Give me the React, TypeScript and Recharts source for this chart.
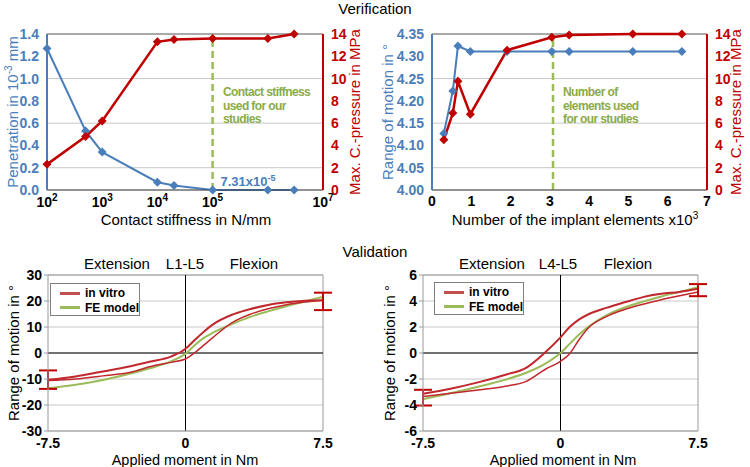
import React from 'react';
import {
  LineChart,
  ComposedChart,
  Line,
  Scatter,
  ErrorBar,
  XAxis,
  YAxis,
  CartesianGrid,
  ReferenceLine,
} from 'recharts';

const BLUE = '#4a7ebb';
const RED = '#c00000';
const VITRO = '#c0282d';
const GREEN = '#9bbb59';
const NOTE = '#8aab4a';
const GRID = '#c8c8c8';
const FONT = '"Liberation Sans", Arial, sans-serif';

// verification: contact stiffness
const stiffness = [100, 500, 1000, 10000, 20000, 100000, 1000000, 3000000];
const penetration = [1.27, 0.53, 0.34, 0.07, 0.04, 0.0000731, 0, 0];
const stiffPressure = [2.3, 4.8, 6.2, 13.3, 13.5, 13.6, 13.6, 14.0];
const stiffTicks = [100, 1e3, 1e4, 1e5, 1e6, 1e7];
const penTicks = [0, 0.2, 0.4, 0.6, 0.8, 1.0, 1.2, 1.4];
const pressureTicks = [0, 2, 4, 6, 8, 10, 12, 14];

// verification: mesh size
const elements = [0.3, 0.53, 0.66, 0.975, 1.91, 3.05, 3.49, 5.11, 6.36];
const romMesh = [4.127, 4.222, 4.323, 4.311, 4.311, 4.311, 4.311, 4.311, 4.311];
const meshPressure = [4.5, 6.9, 9.75, 6.8, 12.55, 13.7, 13.9, 14.0, 14.0];
const elemTicks = [0, 1, 2, 3, 4, 5, 6, 7];
const romTicks = [4.0, 4.05, 4.1, 4.15, 4.2, 4.25, 4.3, 4.35];

// validation
const momentX = [-7.5, -6, -4.5, -3, -1.9, -0.8, 0, 0.5, 1, 1.5, 2.5, 3.5, 4.5, 5.5, 6.5, 7.5];
const momentTicks = [-7.5, 0, 7.5];

const l15VitroUp = [-10.3, -9.0, -7.1, -5.1, -3.3, -1.4, 1.6, 5.0, 8.2, 11.0, 14.6, 16.8, 18.5, 19.5, 20.1, 20.3];
const l15VitroDown = [-10.6, -10.0, -8.8, -7.4, -5.2, -3.6, -2.3, 0.1, 3.0, 6.0, 11.5, 14.8, 17.0, 18.6, 19.6, 20.3];
const l15Fe = [-13.6, -12.2, -10.4, -7.9, -5.8, -3.2, -0.3, 3.0, 5.8, 7.8, 11.0, 13.8, 16.0, 18.0, 19.8, 21.6];
const l15Ticks = [-30, -20, -10, 0, 10, 20, 30];
const l15Err = [
  { x: -7.5, lo: -13.8, hi: -6.7 },
  { x: 7.5, lo: 16.5, hi: 23.2 },
];

const l45VitroUp = [-3.14, -2.75, -2.26, -1.67, -1.16, 0.1, 1.2, 2.0, 2.57, 2.96, 3.47, 3.9, 4.3, 4.55, 4.7, 4.94];
const l45VitroDown = [-3.34, -3.1, -2.85, -2.55, -2.2, -1.23, -0.64, -0.05, 1.0, 1.9, 2.8, 3.35, 3.75, 4.1, 4.4, 4.7];
const l45Fe = [-3.55, -3.1, -2.6, -2.05, -1.54, -0.8, 0, 0.7, 1.4, 2.0, 2.9, 3.5, 3.95, 4.35, 4.7, 5.06];
const l45Ticks = [-6, -4, -2, 0, 2, 4, 6];
const l45Err = [
  { x: -7.5, lo: -4.04, hi: -2.83 },
  { x: 7.5, lo: 4.37, hi: 5.3 },
];

const toSeries = (ys: number[]) => momentX.map((x, i) => ({ x, y: ys[i] }));
const toErr = (rows: { x: number; lo: number; hi: number }[]) =>
  rows.map(r => {
    const mid = (r.lo + r.hi) / 2;
    return { x: r.x, y: mid, err: [mid - r.lo, r.hi - mid] };
  });

const diamond = (color: string, r: number) => (p: any) => {
  const { cx, cy, index } = p;
  if (cx == null || cy == null) return <g key={index} />;
  return (
    <path
      key={index}
      d={`M${cx},${cy - r}L${cx + r},${cy}L${cx},${cy + r}L${cx - r},${cy}Z`}
      fill={color}
    />
  );
};

const PowerTick = ({ x, y, payload }: any) => {
  const exp = Math.round(Math.log10(payload.value));
  return (
    <text x={x} y={y} dy={9} textAnchor="middle" fontSize={14} fontWeight="bold" fill="#000" fontFamily={FONT}>
      10<tspan dy={-6} fontSize={10}>{exp}</tspan>
    </text>
  );
};

const tickStyle = (fill: string) => ({ fill, fontSize: 14, fontWeight: 'bold' as const, fontFamily: FONT });

const Txt = ({ x, y, children, color = '#000', size = 15, rotate = false, weight = 'normal', style = {} }: any) => (
  <div
    style={{
      position: 'absolute',
      left: x,
      top: y,
      transform: `translate(-50%, -50%)${rotate ? ' rotate(-90deg)' : ''}`,
      whiteSpace: 'nowrap',
      color,
      fontSize: size,
      fontWeight: weight,
      fontFamily: FONT,
      lineHeight: 1,
      ...style,
    }}
  >
    {children}
  </div>
);

const Note = ({ x, y, lines }: { x: number; y: number; lines: string[] }) => (
  <div
    style={{
      position: 'absolute',
      left: x,
      top: y,
      color: NOTE,
      fontSize: 12,
      fontWeight: 'bold',
      fontFamily: FONT,
      lineHeight: '13.5px',
      letterSpacing: -0.6,
    }}
  >
    {lines.map(l => (
      <div key={l}>{l}</div>
    ))}
  </div>
);

const LegendBox = ({ x, y }: { x: number; y: number }) => (
  <div
    style={{
      position: 'absolute',
      left: x,
      top: y,
      width: 90,
      height: 33,
      border: '1px solid #7f7f7f',
      background: '#fff',
      fontFamily: FONT,
      fontSize: 12,
      fontWeight: 'bold',
      boxSizing: 'border-box',
      padding: '2px 0 0 9px',
      whiteSpace: 'nowrap',
    }}
  >
    {[
      { c: '#c0504d', t: 'in vitro' },
      { c: GREEN, t: 'FE model' },
    ].map(it => (
      <div key={it.t} style={{ display: 'flex', alignItems: 'center', height: 14.5 }}>
        <span style={{ display: 'inline-block', width: 20, height: 3, background: it.c, marginRight: 5 }} />
        {it.t}
      </div>
    ))}
  </div>
);

function ValidationChart({ up, down, fe, ticks, err }: any) {
  const domain = [ticks[0], ticks[ticks.length - 1]];
  return (
    <ComposedChart width={375} height={227} margin={{ top: 35, right: 52, bottom: 6, left: 0 }}>
      <CartesianGrid stroke={GRID} vertical={false} />
      <XAxis
        dataKey="x"
        type="number"
        domain={[-7.5, 7.5]}
        ticks={momentTicks}
        height={30}
        axisLine={{ stroke: '#9a9a9a' }}
        tickLine={false}
        tickSize={5}
        tick={tickStyle('#000')}
        tickFormatter={(v: number) => String(v)}
      />
      <YAxis
        type="number"
        domain={domain}
        ticks={ticks}
        width={48}
        axisLine={{ stroke: '#9a9a9a' }}
        tickLine={{ stroke: '#9a9a9a' }}
        tickSize={4}
        tick={tickStyle('#000')}
      />
      <ReferenceLine y={domain[1]} stroke="#9a9a9a" />
      <ReferenceLine x={7.5} stroke="#9a9a9a" />
      <ReferenceLine x={0} stroke="#000" />
      <ReferenceLine y={0} stroke="#000" />
      <Line data={toSeries(fe)} dataKey="y" type="monotone" stroke={GREEN} strokeWidth={2} dot={false} isAnimationActive={false} />
      <Line data={toSeries(down)} dataKey="y" type="monotone" stroke={VITRO} strokeWidth={1.5} dot={false} isAnimationActive={false} />
      <Line data={toSeries(up)} dataKey="y" type="monotone" stroke={VITRO} strokeWidth={2} dot={false} isAnimationActive={false} />
      <Scatter data={toErr(err)} dataKey="y" shape={() => <g />} isAnimationActive={false}>
        <ErrorBar dataKey="err" direction="y" width={9} stroke={RED} strokeWidth={2} isAnimationActive={false} />
      </Scatter>
    </ComposedChart>
  );
}

export default function App() {
  const stiffData = stiffness.map((k, i) => ({ k, pen: penetration[i], pres: stiffPressure[i] }));
  const meshData = elements.map((n, i) => ({ n, rom: romMesh[i], pres: meshPressure[i] }));

  return (
    <div style={{ position: 'absolute', left: 0, top: 0, width: 750, height: 467, background: '#fff', overflow: 'hidden' }}>
      <div style={{ position: 'absolute', left: 0, top: 0 }}>
        <LineChart width={375} height={240} data={stiffData} margin={{ top: 34, right: 0, bottom: 20, left: 0 }}>
          <CartesianGrid yAxisId="pen" vertical={false} stroke={GRID} />
          <XAxis
            dataKey="k"
            type="number"
            scale="log"
            domain={[100, 1e7]}
            ticks={stiffTicks}
            height={30}
            axisLine={{ stroke: '#404040' }}
            tickLine={false}
            tick={<PowerTick />}
          />
          <YAxis
            yAxisId="pen"
            type="number"
            domain={[0, 1.4]}
            ticks={penTicks}
            width={47}
            axisLine={{ stroke: BLUE, strokeWidth: 2 }}
            tickLine={false}
            tick={tickStyle(BLUE)}
            tickFormatter={(v: number) => v.toFixed(1)}
          />
          <YAxis
            yAxisId="pres"
            orientation="right"
            type="number"
            domain={[0, 14]}
            ticks={pressureTicks}
            width={52}
            axisLine={{ stroke: RED, strokeWidth: 2 }}
            tickLine={false}
            tick={tickStyle(RED)}
          />
          <ReferenceLine yAxisId="pen" y={1.4} stroke="#707070" />
          <ReferenceLine yAxisId="pen" x={1e5} stroke={GREEN} strokeWidth={2.5} strokeDasharray="7 4" />
          <Line yAxisId="pen" dataKey="pen" stroke={BLUE} strokeWidth={2} dot={diamond(BLUE, 4.5)} isAnimationActive={false} />
          <Line yAxisId="pres" dataKey="pres" stroke={RED} strokeWidth={2.5} dot={diamond(RED, 4.5)} isAnimationActive={false} />
        </LineChart>
      </div>

      <div style={{ position: 'absolute', left: 375, top: 0 }}>
        <LineChart width={375} height={240} data={meshData} margin={{ top: 34, right: 0, bottom: 20, left: 0 }}>
          <CartesianGrid yAxisId="rom" vertical={false} stroke={GRID} />
          <XAxis
            dataKey="n"
            type="number"
            domain={[0, 7]}
            ticks={elemTicks}
            height={30}
            axisLine={{ stroke: '#404040' }}
            tickLine={false}
            tickSize={4}
            tick={tickStyle('#000')}
          />
          <YAxis
            yAxisId="rom"
            type="number"
            domain={[4.0, 4.35]}
            ticks={romTicks}
            width={57}
            axisLine={{ stroke: BLUE, strokeWidth: 2 }}
            tickLine={false}
            tick={tickStyle(BLUE)}
            tickFormatter={(v: number) => v.toFixed(2)}
          />
          <YAxis
            yAxisId="pres"
            orientation="right"
            type="number"
            domain={[0, 14]}
            ticks={pressureTicks}
            width={43}
            axisLine={{ stroke: RED, strokeWidth: 2 }}
            tickLine={false}
            tick={tickStyle(RED)}
          />
          <ReferenceLine yAxisId="rom" y={4.35} stroke="#707070" />
          <ReferenceLine yAxisId="rom" x={3.08} stroke={GREEN} strokeWidth={2.5} strokeDasharray="7 4" />
          <Line yAxisId="rom" dataKey="rom" stroke={BLUE} strokeWidth={2} dot={diamond(BLUE, 4.5)} isAnimationActive={false} />
          <Line yAxisId="pres" dataKey="pres" stroke={RED} strokeWidth={2.5} dot={diamond(RED, 4.5)} isAnimationActive={false} />
        </LineChart>
      </div>

      <div style={{ position: 'absolute', left: 0, top: 240 }}>
        <ValidationChart up={l15VitroUp} down={l15VitroDown} fe={l15Fe} ticks={l15Ticks} err={l15Err} />
      </div>
      <div style={{ position: 'absolute', left: 375, top: 240 }}>
        <ValidationChart up={l45VitroUp} down={l45VitroDown} fe={l45Fe} ticks={l45Ticks} err={l45Err} />
      </div>

      <Txt x={375} y={8}>Verification</Txt>
      <Txt x={375} y={251}>Validation</Txt>

      <Txt x={12} y={112} color={BLUE} rotate>
        Penetration in 10<sup style={{ fontSize: 10 }}>-3</sup> mm
      </Txt>
      <Txt x={354} y={112} color={RED} rotate>Max. C.-pressure in MPa</Txt>
      <Txt x={186} y={219}>Contact stiffness in N/mm</Txt>
      <Txt x={387} y={112} color={BLUE} rotate>Range of motion in °</Txt>
      <Txt x={735} y={112} color={RED} rotate>Max. C.-pressure in MPa</Txt>
      <Txt x={575} y={219}>
        Number of the implant elements x10<sup style={{ fontSize: 10 }}>3</sup>
      </Txt>
      <Txt x={248} y={181} color={BLUE} size={13} weight="bold">
        7.31x10<sup style={{ fontSize: 9 }}>-5</sup>
      </Txt>
      <Note x={223} y={86} lines={['Contact stiffness', 'used for our', 'studies']} />
      <Note x={563} y={86} lines={['Number of', 'elements used', 'for our studies']} />

      <Txt x={117} y={263}>Extension</Txt>
      <Txt x={185} y={263}>L1-L5</Txt>
      <Txt x={254} y={263}>Flexion</Txt>
      <Txt x={492} y={263}>Extension</Txt>
      <Txt x={558} y={263}>L4-L5</Txt>
      <Txt x={628} y={263}>Flexion</Txt>

      <Txt x={13} y={353} rotate>Range of motion in °</Txt>
      <Txt x={389} y={353} rotate>Range of motion in °</Txt>
      <Txt x={185} y={460} size={14.5}>Applied moment in Nm</Txt>
      <Txt x={563} y={460} size={14.5}>Applied moment in Nm</Txt>

      <LegendBox x={50} y={283} />
      <LegendBox x={434} y={282} />
    </div>
  );
}
